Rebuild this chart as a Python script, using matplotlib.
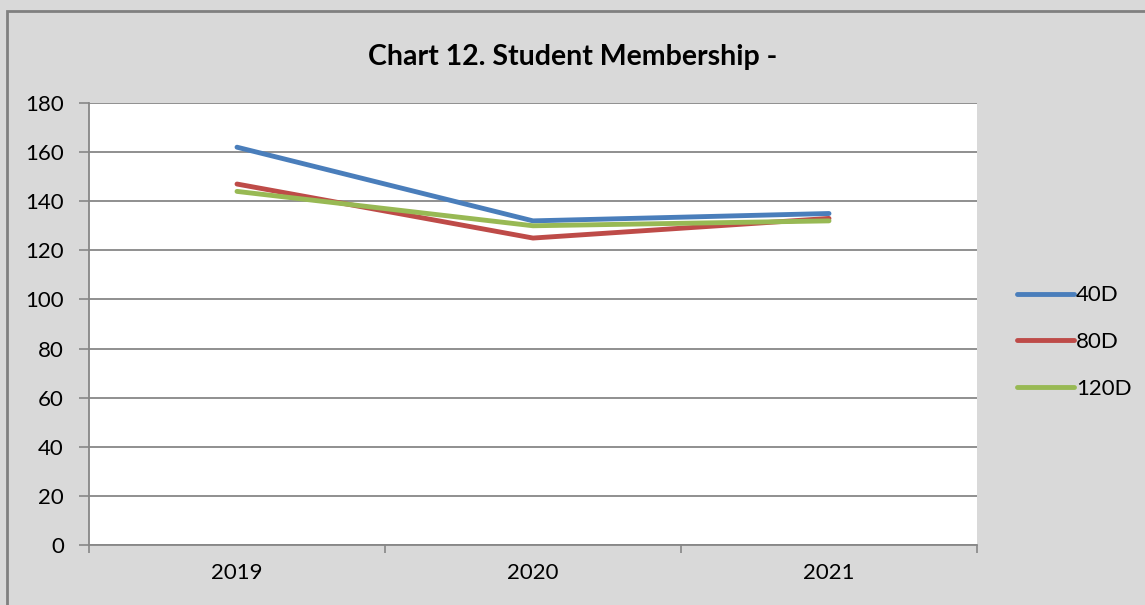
import matplotlib.pyplot as plt
from matplotlib.patches import Rectangle

years = ["2019", "2020", "2021"]
series_names = ["40D", "80D", "120D"]
d40 = [162, 132, 135]
d80 = [147, 125, 133]
d120 = [144, 130, 132]
colors = ["#4A7EBB", "#BE4B48", "#98B954"]
y_ticks = [0, 20, 40, 60, 80, 100, 120, 140, 160, 180]

plt.rcParams["font.family"] = ["Lato", "DejaVu Sans"]

fig = plt.figure(figsize=(11.45, 6.05), dpi=100, facecolor="#D9D9D9")
ax = fig.add_axes([89 / 1145, 60 / 605, 888 / 1145, 442 / 605])
ax.set_facecolor("white")

x = list(range(len(years)))
for vals, name, c in zip([d40, d80, d120], series_names, colors):
    ax.plot(x, vals, color=c, lw=3.5, label=name, solid_capstyle="round")

ax.set_xlim(-0.5, len(years) - 0.5)
ax.set_ylim(0, 180)
ax.set_yticks(y_ticks)
ax.set_xticks([i - 0.5 for i in range(len(years) + 1)])
ax.set_xticklabels([])
ax.set_xticks(x, minor=True)
ax.set_xticklabels(years, minor=True, fontsize=16)
ax.tick_params(axis="x", which="minor", length=0, pad=13)
ax.tick_params(axis="x", which="major", length=6, color="#878787", width=1.2)
ax.tick_params(axis="y", length=7, color="#878787", width=1.2, labelsize=16, pad=11)
ax.grid(axis="y", color="#878787", lw=1.3)
ax.set_axisbelow(True)

for side in ["top", "right"]:
    ax.spines[side].set_visible(False)
for side in ["left", "bottom"]:
    ax.spines[side].set_color("#878787")
    ax.spines[side].set_linewidth(1.3)

fig.text(0.5, 548 / 605, "Chart 12. Student Membership -", ha="center",
         va="center", fontsize=20.5, fontweight="bold")

leg = fig.legend(loc="center left", bbox_to_anchor=(997 / 1145, (605 - 342) / 605),
                 frameon=False, fontsize=16, handlelength=2.55,
                 handletextpad=0.1, labelspacing=1.2)

# outer chart border
fig.patches.append(Rectangle((7 / 1145, -0.1), 1.2, (605 - 10.5) / 605 + 0.1,
                             transform=fig.transFigure, fill=False,
                             edgecolor="#808080", lw=2))

fig.savefig("out.png", dpi=100, facecolor=fig.get_facecolor())
